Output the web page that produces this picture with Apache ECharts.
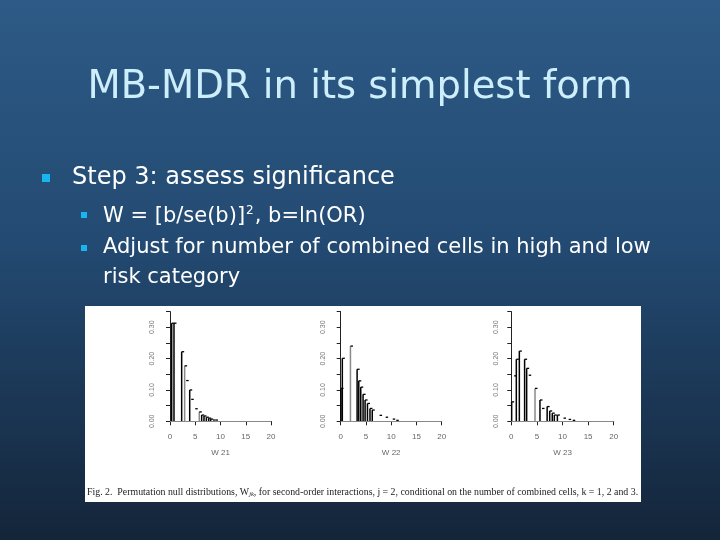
<!DOCTYPE html>
<html><head><meta charset="utf-8">
<script src="https://cdn.jsdelivr.net/npm/echarts@6/dist/echarts.min.js"></script>
<style>html,body{margin:0;padding:0;}#c{width:720px;height:540px;}</style>
</head><body><div id="c"></div>
<script>
// ---- data ----
const xTicks = [0, 5, 10, 15, 20];
const yTicks = [0, 0.05, 0.10, 0.15, 0.20, 0.25, 0.30, 0.35];
const panelNames = ['W 21', 'W 22', 'W 23'];

const p1X = [0.33, 0.79, 2.31, 2.9, 3.2, 3.9, 4.2, 5.0, 5.8, 6.27, 6.73, 7.2, 7.66, 8.05, 8.5, 9.0];
const p1Y = [0.313, 0.313, 0.222, 0.177, 0.130, 0.100, 0.070, 0.040, 0.030, 0.020, 0.017, 0.013, 0.010, 0.007, 0.004, 0.004];
const p1Kind = ['v','v','v','g','d','v','d','d','g','v','v','v','v','v','d','d'];

const p2X = [0.06, 0.32, 1.93, 3.25, 3.58, 3.97, 4.43, 4.83, 5.3, 5.8, 6.25, 7.7, 8.9, 10.3, 11.0];
const p2Y = [0.105, 0.201, 0.240, 0.166, 0.129, 0.109, 0.086, 0.068, 0.057, 0.041, 0.036, 0.019, 0.013, 0.007, 0.003];
const p2Kind = ['v','v','g','v','v','v','v','v','v','v','v','d','d','d','d'];

const p3X = [0.07, 0.55, 0.98, 1.57, 2.6, 3.0, 3.4, 4.63, 5.6, 6.0, 7.0, 7.5, 8.0, 8.4, 9.0, 10.2, 11.2, 12.0];
const p3Y = [0.062, 0.145, 0.198, 0.224, 0.198, 0.169, 0.147, 0.105, 0.068, 0.041, 0.047, 0.033, 0.026, 0.020, 0.020, 0.010, 0.006, 0.003];
const p3Kind = ['v','d','v','v','v','v','d','g','v','d','v','v','v','v','v','d','d','d'];

const titleText = 'MB-MDR in its simplest form';
const bullet1 = 'Step 3: assess significance';
const sub1a = 'W = [b/se(b)]';
const sub1b = '2';
const sub1c = ', b=ln(OR)';
const sub2a = 'Adjust for number of combined cells in high and low';
const sub2b = 'risk category';
const caption = 'Fig. 2.  Permutation null distributions, W';
const captionSub = 'jk';
const captionRest = ', for second-order interactions, j = 2, conditional on the number of combined cells, k = 1, 2 and 3.';

// ---- chart ----
const chart = echarts.init(document.getElementById('c'));
const kindCode = {v: 0, g: 1, d: 2};

function renderItem(params, api) {
  const x = api.value(0), y = api.value(1), k = api.value(2);
  const base = api.coord([x, 0]);
  const top = api.coord([x, y]);
  const children = [];
  const col = k === 1 ? '#8a8a8a' : '#000';
  if (k !== 2) {
    children.push({type: 'line', shape: {x1: top[0], y1: base[1], x2: top[0], y2: top[1]},
      style: {stroke: col, lineWidth: 1.5}});
  }
  children.push({type: 'line', shape: {x1: top[0], y1: top[1], x2: top[0] + 2.5, y2: top[1]},
    style: {stroke: '#000', lineWidth: 1.3}});
  return {type: 'group', children};
}

const panels = [
  {X: p1X, Y: p1Y, K: p1Kind, left: 170, width: 101, yOff: 6},
  {X: p2X, Y: p2Y, K: p2Kind, left: 340.7, width: 101, yOff: 6},
  {X: p3X, Y: p3Y, K: p3Kind, left: 511.3, width: 102.4, yOff: 4}
];

const grids = [], xAxes = [], yAxes = [], series = [];
panels.forEach((p, i) => {
  grids.push({left: p.left, width: p.width, top: 311.6, height: 109.7});
  xAxes.push({
    gridIndex: i, type: 'value', min: xTicks[0], max: xTicks[xTicks.length - 1], interval: xTicks[1] - xTicks[0],
    offset: 5, name: panelNames[i], nameLocation: 'middle', nameGap: 22,
    nameTextStyle: {fontSize: 8, color: '#666', fontFamily: 'Liberation Sans'},
    axisLine: {lineStyle: {color: '#222', width: 1}},
    axisTick: {length: 4, lineStyle: {color: '#222'}},
    axisLabel: {fontSize: 8, color: '#666', margin: 6, fontFamily: 'Liberation Sans'},
    splitLine: {show: false}
  });
  yAxes.push({
    gridIndex: i, type: 'value', min: yTicks[0], max: yTicks[yTicks.length - 1], interval: yTicks[1] - yTicks[0],
    offset: p.yOff,
    axisLine: {show: true, lineStyle: {color: '#222', width: 1}},
    axisTick: {show: true, length: 4, lineStyle: {color: '#222'}},
    axisLabel: {fontSize: 7, color: '#777', rotate: 90, margin: 8, fontFamily: 'Liberation Sans',
      formatter: v => (Math.round(v * 100) % 10 === 0 && v < 0.34) ? v.toFixed(2) : ''},
    splitLine: {show: false}
  });
  series.push({
    type: 'custom', xAxisIndex: i, yAxisIndex: i, renderItem,
    data: p.X.map((x, j) => [x, p.Y[j], kindCode[p.K[j]]]),
    markLine: {silent: true, symbol: 'none', label: {show: false},
      lineStyle: {color: '#888', type: 'solid', width: 1}, data: [{yAxis: 0}]}
  });
});

chart.setOption({
  animation: false,
  backgroundColor: {type: 'linear', x: 0, y: 0, x2: 0, y2: 1,
    colorStops: [{offset: 0, color: '#2d5a86'}, {offset: 0.45, color: '#234a72'}, {offset: 1, color: '#14253a'}]},
  grid: grids, xAxis: xAxes, yAxis: yAxes, series,
  graphic: [
    {type: 'text', left: 'center', top: 68, style: {text: titleText, fill: '#cdeefb', font: '38.5px "DejaVu Sans"'}},
    {type: 'rect', shape: {x: 42, y: 174, width: 8, height: 8}, style: {fill: '#17b6ef'}},
    {type: 'text', left: 72, top: 166, style: {text: bullet1, fill: '#ffffff', font: '24px "DejaVu Sans"'}},
    {type: 'rect', shape: {x: 81, y: 212, width: 6, height: 6}, style: {fill: '#17b6ef'}},
    {type: 'text', left: 103, top: 205, style: {
      text: '{a|' + sub1a + '}{s|' + sub1b + '}{a|' + sub1c + '}',
      rich: {a: {fill: '#fff', font: '21px "DejaVu Sans"', lineHeight: 24},
             s: {fill: '#fff', font: '12px "DejaVu Sans"', lineHeight: 24, padding: [0, 1, 12, 1]}}}},
    {type: 'rect', shape: {x: 81, y: 245, width: 6, height: 6}, style: {fill: '#17b6ef'}},
    {type: 'text', left: 103, top: 237, style: {text: sub2a, fill: '#fff', font: '21px "DejaVu Sans"'}},
    {type: 'text', left: 103, top: 267, style: {text: sub2b, fill: '#fff', font: '21px "DejaVu Sans"'}},
    {type: 'rect', shape: {x: 85, y: 306, width: 556, height: 196}, style: {fill: '#ffffff'}, z: -10},
    {type: 'text', left: 87, top: 487, style: {
      text: '{a|' + caption + '}{s|' + captionSub + '}{a|' + captionRest + '}',
      rich: {a: {fill: '#222', font: '9.85px "Liberation Serif"'}, s: {fill: '#222', font: 'italic 6.5px "Liberation Serif"', padding: [4, 0, 0, 0]}}}}
  ]
});
</script>
</body></html>
